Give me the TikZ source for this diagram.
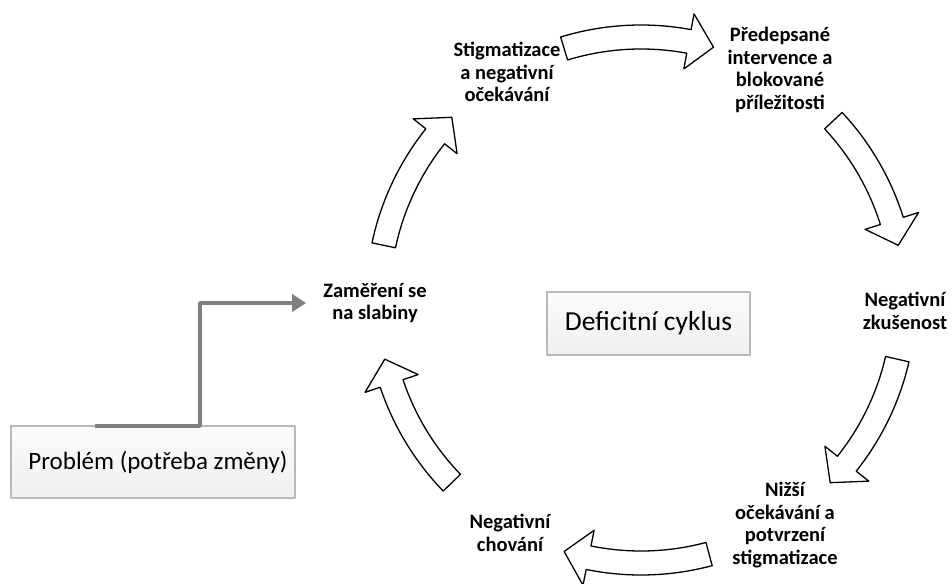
\documentclass[tikz,border=0pt]{standalone}
\usepackage{fontspec}
\setmainfont{Carlito}
\usetikzlibrary{arrows.meta}

\begin{document}
\begin{tikzpicture}[line cap=round,line join=round,x=1pt,y=1pt,
    lbl/.style={align=center,inner sep=0pt,font=\fontsize{20.5}{22.5}\selectfont\bfseries},
    box/.style={draw=gray!55,line width=1.5pt,top color=gray!3,bottom color=gray!12,inner sep=0pt},
    conn/.style={draw=gray,line width=3.5pt,line cap=butt,-{Triangle[length=14pt,width=17pt]}},
    cyc/.style={draw=black,line width=1.3pt,fill=white}]
                \useasboundingbox (0,0) rectangle (952,-583);
                \coordinate (o) at (641,-300);
                \node[lbl] (stig) at (507,-72) {Stigmatizace\\a negativní\\očekávání};
                \node[lbl] (pred) at (780,-70) {Předepsané\\intervence a\\blokované\\příležitosti};
                \node[lbl] (nzk) at (905,-311) {Negativní\\zkušenost};
                \node[lbl] (nizsi) at (785,-525) {Nižší\\očekávání a\\potvrzení\\stigmatizace};
                \node[lbl] (nchov) at (510,-533) {Negativní\\chování};
                \node[lbl] (foc) at (375,-303) {Zaměření se\\na slabiny};
                \node[box,minimum width=203,minimum height=63,font=\fontsize{27.5}{30}\selectfont] (defc) at (648.5,-323.5) {Deficitní cyklus};
                \node[box,minimum width=284,minimum height=72,font=\fontsize{25}{30}\selectfont] (prob) at (153,-462) {\hspace{10pt}Problém (potřeba změny)};
                \coordinate (pstart) at (95,-426);
                \draw[conn,shorten >=17pt] (pstart) -- ++(105,0) |- (foc.west);
                % block arrows of the cycle
                \foreach \a/\b in {107/74,43/12,-13/-44,-75/-107,-136/-167,168/136}{
                    \pgfmathsetmacro{\m}{\b+5.5}
                    \draw[cyc] ([shift={(o)}]\a:275) arc[start angle=\a,end angle=\m,radius=275pt]
                        -- ([shift={(o)}]\m:291) -- ([shift={(o)}]\b:263) -- ([shift={(o)}]\m:235)
                        -- ([shift={(o)}]\m:251) arc[start angle=\m,end angle=\a,radius=251pt] -- cycle;
                }
            \end{tikzpicture}
\end{document}
